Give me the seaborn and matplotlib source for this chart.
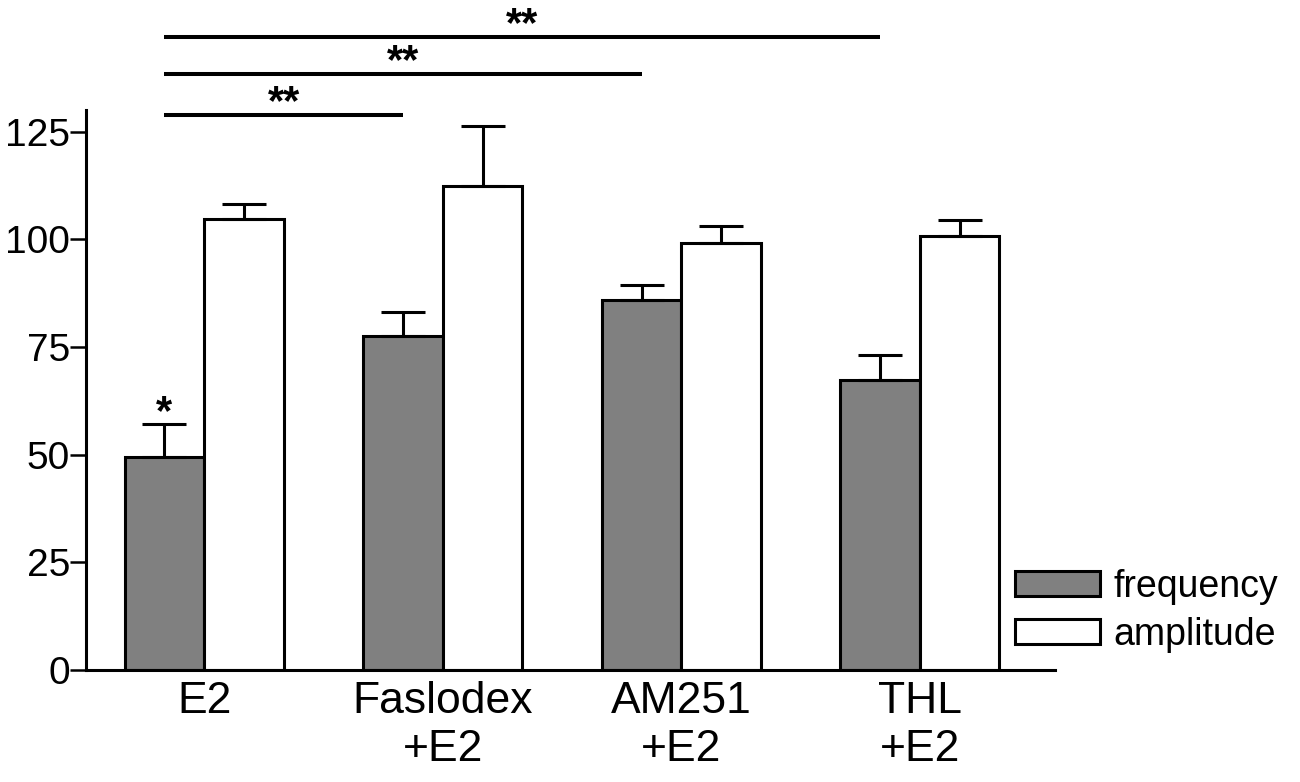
import pandas as pd
import matplotlib.pyplot as plt
import seaborn as sns

# values
groups = ['E2', 'Faslodex\n+E2', 'AM251\n+E2', 'THL\n+E2']
frequency = [49.5, 77.5, 85.9, 67.4]
frequency_err = [7.6, 5.6, 3.6, 5.7]
amplitude = [104.7, 112.3, 99.1, 100.7]
amplitude_err = [3.5, 13.9, 4.1, 3.7]
yticks = [0, 25, 50, 75, 100, 125]

# significance bars: (from group, to group, height)
sig_pairs = [(0, 1, 128.9), (0, 2, 138.4), (0, 3, 147.0)]

df = pd.DataFrame({
    'group': groups * 2,
    'value': frequency + amplitude,
    'measure': ['frequency'] * 4 + ['amplitude'] * 4,
})

sns.set_theme(style='ticks')
plt.rcParams['font.family'] = ['Liberation Sans', 'DejaVu Sans']
plt.rcParams['text.color'] = 'black'
plt.rcParams['xtick.color'] = 'black'
plt.rcParams['ytick.color'] = 'black'
plt.rcParams['axes.edgecolor'] = 'black'

fig = plt.figure(figsize=(13, 7.82), dpi=100)
ax = fig.add_axes([0.0662, 0.1432, 0.7453, 0.716])

sns.barplot(data=df, x='group', y='value', hue='measure', ax=ax,
            palette={'frequency': '#808080', 'amplitude': 'white'},
            edgecolor='black', linewidth=2.2, width=0.667, errorbar=None,
            saturation=1)

# upward-only error bars on top of each bar
for cont, errs in zip(ax.containers, [frequency_err, amplitude_err]):
    xs = [p.get_x() + p.get_width() / 2 for p in cont.patches]
    ys = [p.get_height() for p in cont.patches]
    ax.errorbar(xs, ys, yerr=[[0] * len(errs), errs], fmt='none',
                ecolor='black', elinewidth=2.2, capsize=15.5, capthick=2.2)

freq_x = [p.get_x() + p.get_width() / 2 for p in ax.containers[0].patches]

# significance lines
for a, b, h in sig_pairs:
    ax.plot([freq_x[a], freq_x[b]], [h, h], color='black', lw=2.9,
            clip_on=False, solid_capstyle='butt')
    ax.text((freq_x[a] + freq_x[b]) / 2, h - 2.0, '**', ha='center',
            va='bottom', fontsize=30, fontweight='bold', clip_on=False)

ax.text(freq_x[0], frequency[0] + frequency_err[0] - 2.0, '*',
        ha='center', va='bottom', fontsize=30, fontweight='bold')

ax.set_xlim(-0.495, 3.566)
ax.set_ylim(0, 130)
ax.set_yticks(yticks)
ax.set_xlabel('')
ax.set_ylabel('')
sns.despine(ax=ax)
for s in ['left', 'bottom']:
    ax.spines[s].set_linewidth(2.2)
ax.tick_params(axis='y', length=11.5, width=1.8, pad=0, labelsize=28)
ax.tick_params(axis='x', length=0, pad=8, labelsize=32)

handles, labels = ax.get_legend_handles_labels()
ax.legend(handles, labels, loc='upper left', bbox_to_anchor=(0.781, 0.273),
          bbox_transform=fig.transFigure, frameon=False, fontsize=27,
          handlelength=2.27, handleheight=0.64, handletextpad=0.35,
          labelspacing=0.33, borderaxespad=0, borderpad=0)

fig.savefig('out.png', dpi=100)
